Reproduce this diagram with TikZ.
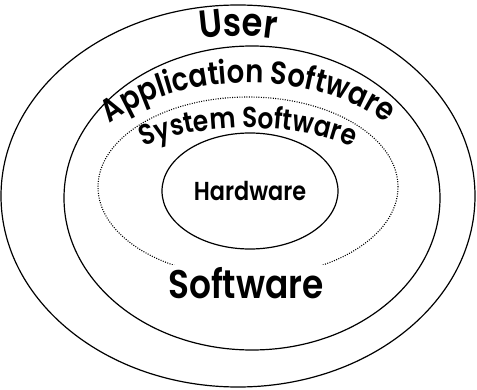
\documentclass[tikz,border=0pt]{standalone}
\usepackage{fontspec}
\setmainfont{Poppins}[BoldFont={Poppins SemiBold}]
\newfontfamily\ringfont{Poppins SemiBold}[FakeStretch=0.86]
\usetikzlibrary{decorations.text,shapes.geometric}

\begin{document}
\begin{tikzpicture}[x=1pt, y=1pt,
  ring/.style={draw, ellipse, line width=1.2pt, inner sep=0pt},
  curved/.style={decorate, decoration={text along path, text align=center, text={#1}}}]
  \useasboundingbox (0,0) rectangle (477,389);
  % Draw the rings from outside in
  \node[ring, minimum width=474pt, minimum height=382pt] (user) at (238,193) {};
  \node[ring, minimum width=376pt, minimum height=304pt] (app) at (252,191) {};
  \node[ring, line width=1.1pt, dash pattern=on 1pt off 1.4pt, minimum width=300pt, minimum height=180pt] (sys) at (248,202) {};
  \node[ring, minimum width=176pt, minimum height=116pt, font=\ringfont\fontsize{26}{28}\selectfont] (hw) at (250,198) {Hardware};
  % Label that breaks the dotted ring
  \node[fill=white, inner sep=2pt, font=\ringfont\fontsize{40}{42}\selectfont] (sw) at (246,106) {Software};
  % Curved labels along the top of each ring
  \path[curved={|\ringfont\fontsize{39}{41}\selectfont|User}] (38,193) arc[start angle=180, end angle=0, x radius=200, y radius=160];
  \path[curved={|\ringfont\fontsize{32}{34}\selectfont|Application Software}] (74,202) arc[start angle=180, end angle=0, x radius=174, y radius=104];
  \path[curved={|\ringfont\fontsize{29}{31}\selectfont|System Software}] (100,197) arc[start angle=180, end angle=0, x radius=148, y radius=64];
\end{tikzpicture}
\end{document}
